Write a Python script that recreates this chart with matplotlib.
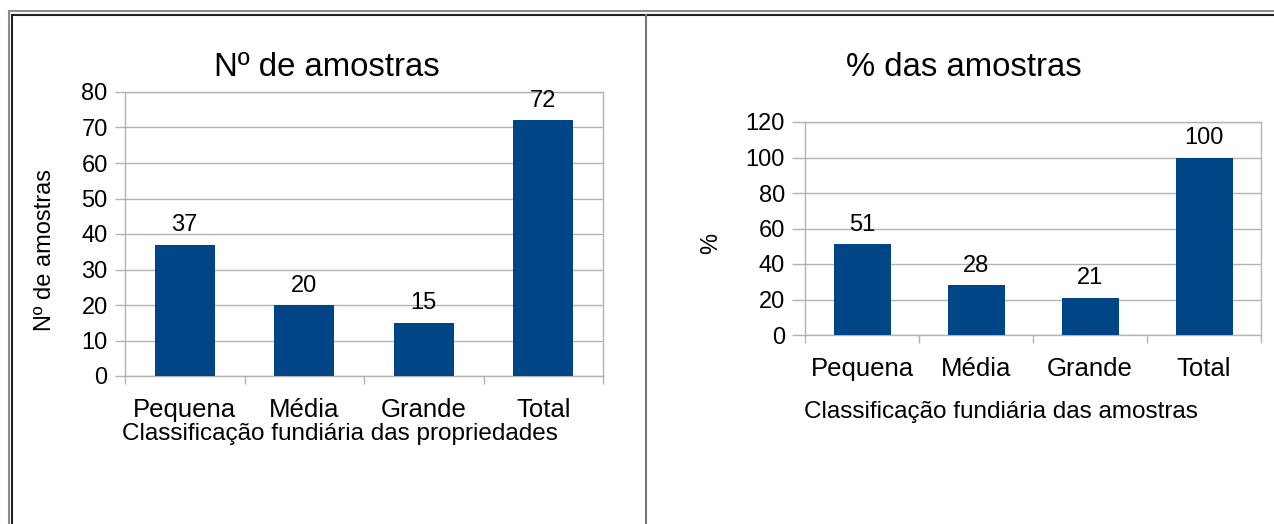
import matplotlib
matplotlib.use("Agg")
import matplotlib.pyplot as plt
from matplotlib.lines import Line2D

plt.rcParams['font.family'] = ['Liberation Sans', 'DejaVu Sans']

categorias = ["Pequena", "Média", "Grande", "Total"]
n_amostras = [37, 20, 15, 72]
pct_amostras = [51, 28, 21, 100]

BAR = "#004586"
GRID = "#b3b3b3"
W, H = 1274, 524

fig = plt.figure(figsize=(W / 100, H / 100), dpi=100)


def px(x, y):
    return x / W, 1 - y / H


def chart(rect, valores, ymax, ystep, tick_len, tick_pad):
    ax = fig.add_axes(rect)
    x = range(len(valores))
    ax.bar(x, valores, width=0.5, color=BAR, zorder=3)
    ax.set_xlim(-0.5, len(valores) - 0.5)
    ax.set_ylim(0, ymax)
    ax.set_yticks(range(0, ymax + 1, ystep))
    ax.yaxis.grid(True, color=GRID, linewidth=1.0, zorder=0)
    ax.set_xticks(list(x), categorias)
    ax.set_xticks([i - 0.5 for i in range(len(valores) + 1)], minor=True)
    ax.tick_params(axis='x', which='major', length=0, pad=16, labelsize=18.5)
    ax.tick_params(axis='x', which='minor', length=6, color=GRID, width=1.0)
    ax.tick_params(axis='y', length=tick_len, color=GRID, width=1.0,
                   pad=tick_pad, labelsize=17)
    for s in ax.spines.values():
        s.set_color(GRID)
        s.set_linewidth(1.0)
    for i, v in enumerate(valores):
        ax.annotate(str(v), (i, v), xytext=(0, 6), textcoords='offset points',
                    ha='center', va='bottom', fontsize=17)
    return ax


x0, y0 = px(125, 376)
x1, y1 = px(603, 92)
chart([x0, y0, x1 - x0, y1 - y0], n_amostras, 80, 10, 7, 5.5)

x0, y0 = px(805, 335)
x1, y1 = px(1261, 122)
chart([x0, y0, x1 - x0, y1 - y0], pct_amostras, 120, 20, 9.5, 5)

# titles and axis labels
fig.text(*px(327, 68), "Nº de amostras", ha='center', va='center', fontsize=23.7)
fig.text(*px(964, 68), "% das amostras", ha='center', va='center', fontsize=23.7)
fig.text(*px(340, 434), "Classificação fundiária das propriedades",
         ha='center', va='center', fontsize=17.5)
fig.text(*px(1001, 412), "Classificação fundiária das amostras",
         ha='center', va='center', fontsize=17.5)
fig.text(*px(45, 250), "Nº de amostras", ha='center', va='center',
         rotation=90, fontsize=17)
fig.text(*px(711, 243), "%", ha='center', va='center', rotation=90, fontsize=17)

# table border
for (xa, ya, xb, yb, c, lw) in [
    (9, 11, W, 11, "#8c8c8c", 1.5),
    (12, 14.5, W, 14.5, "#222222", 1.5),
    (9, 11, 9, H, "#8c8c8c", 1.5),
    (12, 14.5, 12, H, "#222222", 1.5),
    (646, 14.5, 646, H, "#777777", 1.5),
]:
    (ax_, ay_), (bx_, by_) = px(xa, ya), px(xb, yb)
    fig.add_artist(Line2D([ax_, bx_], [ay_, by_], color=c, linewidth=lw,
                          transform=fig.transFigure))

fig.savefig("out.png", dpi=100)
